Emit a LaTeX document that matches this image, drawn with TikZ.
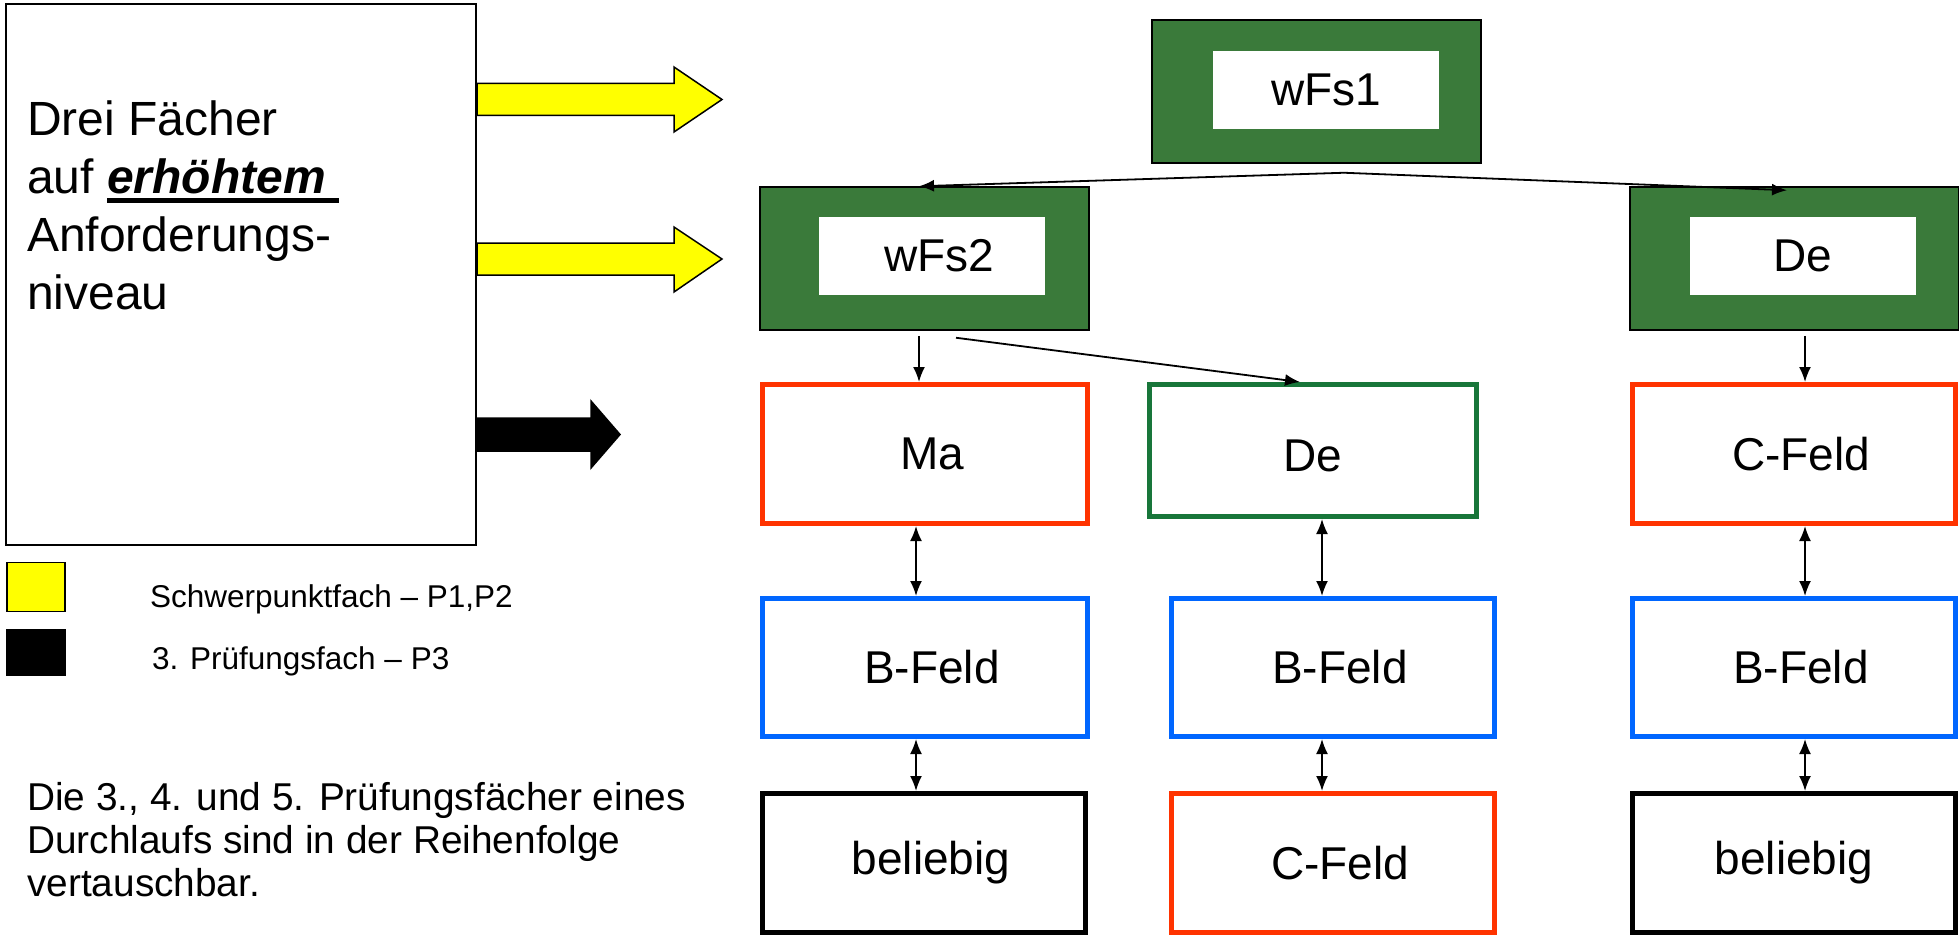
\documentclass[tikz,border=0pt]{standalone}
\usepackage{fontspec}
\setmainfont{Liberation Sans}
\usetikzlibrary{arrows.meta}
\definecolor{boxred}{RGB}{255,51,0}
\definecolor{boxblue}{RGB}{0,102,255}
\definecolor{fillgreen}{RGB}{58,122,58}
\definecolor{degreen}{RGB}{24,118,58}
\definecolor{arrowyellow}{RGB}{255,255,0}
\newcommand\thickul[1]{\setbox0\hbox{#1}\rlap{\rule[-9pt]{\wd0}{4.5pt}}\box0}
\newcommand\rt[1]{\hspace*{14pt}#1}
\tikzset{
  mainfont/.style={font={\fontsize{46}{57.5}\selectfont}},
  subjbox/.style={draw, line width=5pt, fill=white, minimum width=325pt, minimum height=139pt, inner sep=0pt, mainfont},
  greenbox/.style={draw=black, line width=1.5pt, fill=fillgreen, minimum width=329pt, minimum height=143pt, inner sep=0pt},
  whitebox/.style={fill=white, minimum width=226pt, minimum height=78pt, inner sep=0pt, mainfont},
  conn/.style={line width=1.8pt, -{Latex[length=15pt,width=12pt]}},
  dbl/.style={line width=1.8pt, {Latex[length=15pt,width=12pt]}-{Latex[length=15pt,width=12pt]}},
  bigarrow/.style={draw=black, line width=1.5pt, line join=miter},
}
\begin{document}
\begin{tikzpicture}[x=1pt,y=-1pt]
\useasboundingbox (0,0) rectangle (1959,939);
% left big box
\node[draw=black, line width=2pt, minimum width=470pt, minimum height=541pt, inner sep=0pt] (left) at (241,274.5) {};
\node[anchor=north west, align=left, inner sep=0pt, font={\fontsize{48}{58}\selectfont}] (lefttext) at (27,101)
  {Drei Fächer\\auf \thickul{\textbf{\textit{erhöhtem}}\ }\\Anforderungs-\\niveau};
% big arrows
\coordinate (y1a) at (left.east |- 0,83.5);
\coordinate (y1b) at (left.east |- 0,115.5);
\coordinate (y2a) at (left.east |- 0,243);
\coordinate (y2b) at (left.east |- 0,275);
\coordinate (ba) at (left.east |- 0,418);
\coordinate (bb) at (left.east |- 0,451);
\filldraw[bigarrow, fill=arrowyellow] (y1a) -- (674,83.5) -- (674,67) -- (722,99.5) -- (674,132) -- (674,115.5) -- (y1b) -- cycle;
\filldraw[bigarrow, fill=arrowyellow] (y2a) -- (674,243) -- (674,227) -- (722,259) -- (674,292) -- (674,275) -- (y2b) -- cycle;
\filldraw[bigarrow, fill=black] (ba) -- (591,418) -- (591,401) -- (620,434.5) -- (591,468) -- (591,451) -- (bb) -- cycle;
% legend
\node[draw=black, line width=1.5pt, fill=arrowyellow, minimum width=58pt, minimum height=49pt, inner sep=0pt] (legy) at (36,587) {};
\node[draw=black, line width=1.5pt, fill=black, minimum width=58pt, minimum height=46pt, inner sep=0pt] (legb) at (36,652.5) {};
\node[anchor=west, inner sep=0pt, font={\fontsize{31.5}{36}\selectfont}] (legyt) at (150,599) {Schwerpunktfach – P1,P2};
\node[anchor=west, inner sep=0pt, font={\fontsize{31.5}{36}\selectfont}] (legbt) at (152,661) {3. Prüfungsfach – P3};
\node[anchor=north west, align=left, inner sep=0pt, font={\fontsize{38.8}{43}\selectfont}] (note) at (27,782)
  {Die 3., 4. und 5. Prüfungsfächer eines\\Durchlaufs sind in der Reihenfolge\\vertauschbar.};
% green boxes
\node[greenbox] (g1) at (1316.5,91.5) {};
\node[whitebox] (wFs1) at (1326,90) {wFs1};
\node[greenbox] (g2) at (924.5,258.5) {};
\node[whitebox] (wFs2) at (932,256) {\rt{wFs2}};
\node[greenbox] (g3) at (1794.5,258.5) {};
\node[whitebox] (DeTop) at (1802.5,256) {De};
% subject boxes
\node[subjbox, draw=boxred] (Ma) at (925,454) {\rt{Ma}};
\node[subjbox, draw=degreen, minimum width=327pt, minimum height=132pt] (De) at (1313,450.5) {\raisebox{-4pt}[33pt][0pt]{De}};
\node[subjbox, draw=boxred, minimum width=323pt] (CF1) at (1794,454) {\rt{C-Feld}};
\node[subjbox, draw=boxblue, minimum height=138pt] (BF1) at (925,667.5) {\rt{B-Feld}};
\node[subjbox, draw=boxblue, minimum width=323pt, minimum height=138pt] (BF2) at (1333,667.5) {\rt{B-Feld}};
\node[subjbox, draw=boxblue, minimum width=323pt, minimum height=138pt] (BF3) at (1794,667.5) {\rt{B-Feld}};
\node[subjbox, draw=black, minimum width=323pt] (bel1) at (924,863) {\rt{beliebig}};
\node[subjbox, draw=boxred, minimum width=323pt] (CF2) at (1333,863) {\rt{C-Feld}};
\node[subjbox, draw=black, minimum width=323pt] (bel2) at (1794,863) {beliebig};
% connectors
\coordinate (apex) at ([xshift=27.5pt,yshift=-9pt]g1.south);
\draw[conn] (apex) -- ([xshift=-5.5pt]g2.north);
\draw[conn] (apex) -- ([xshift=-7.5pt,yshift=-4pt]g3.north);
\draw[conn] ([xshift=-5.5pt,yshift=-5pt]g2.south) -- ([xshift=-6pt]Ma.north);
\draw[conn] ([xshift=31.5pt,yshift=-7pt]g2.south) -- ([xshift=-13pt]De.north);
\draw[conn] ([xshift=10.5pt,yshift=-5pt]g3.south) -- ([xshift=11pt]CF1.north);
\draw[dbl] ([xshift=-9pt]Ma.south) -- ([xshift=-9pt]BF1.north);
\draw[dbl] ([xshift=-9pt]BF1.south) -- ([xshift=-8pt]bel1.north);
\draw[dbl] ([xshift=9pt]De.south) -- ([xshift=-11pt]BF2.north);
\draw[dbl] ([xshift=-11pt]BF2.south) -- ([xshift=-11pt]CF2.north);
\draw[dbl] ([xshift=11pt]CF1.south) -- ([xshift=11pt]BF3.north);
\draw[dbl] ([xshift=11pt]BF3.south) -- ([xshift=11pt]bel2.north);
\end{tikzpicture}
\end{document}
